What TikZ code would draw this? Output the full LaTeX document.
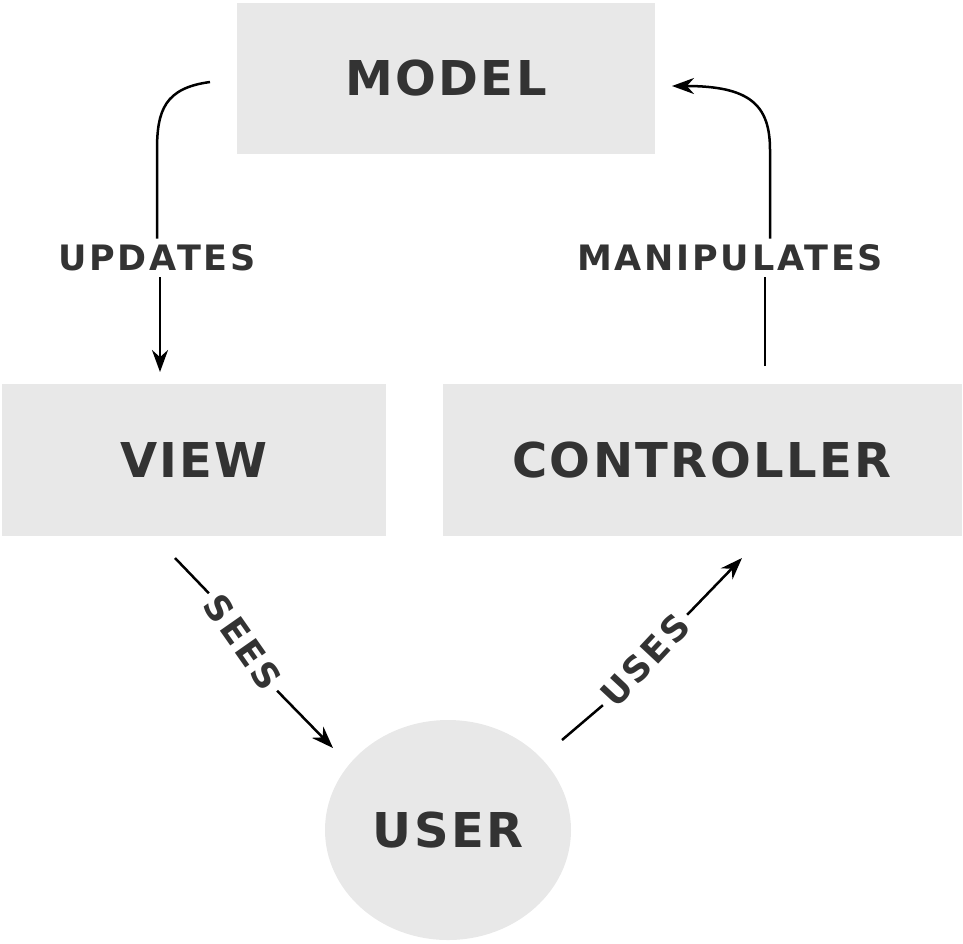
\documentclass[tikz,border=0pt]{standalone}
\usepackage{fontspec}
\setmainfont{DejaVu Sans}
\usetikzlibrary{positioning, arrows.meta, shapes.geometric}
\definecolor{boxgray}{HTML}{E8E8E8}
\definecolor{txtgray}{HTML}{333333}
\tikzset{part/.style={fill=boxgray, text=txtgray, font=\fontsize{48}{50}\selectfont\bfseries\addfontfeature{LetterSpace=5}, inner sep=0pt},
         verb/.style={text=txtgray, font=\fontsize{35}{38}\selectfont\bfseries\addfontfeature{LetterSpace=8}, inner sep=6pt},
         link/.style={line width=2.5pt, black},
         tip/.style={-{Stealth[length=22pt,width=16pt]}},
        }
\begin{document}
\begin{tikzpicture}[x=1pt,y=-1pt]
        \useasboundingbox (0,0) rectangle (963,943);
        \node[part, minimum width=418pt, minimum height=151pt](model)at(446,78){MODEL};
        \node[part, minimum width=384pt, minimum height=152pt](view)at(194,460){VIEW};
        \node[part, minimum width=519pt, minimum height=152pt](ctrl)at(702,460){CONTROLLER};
        \node[part, ellipse, minimum width=246pt, minimum height=220pt](user)at(448,830){USER};

        \node[verb](upd)at(157,258){UPDATES};
        \node[verb](man)at(730,258){MANIPULATES};
        \node[verb, rotate=-55](sees)at(243,642){SEES};
        \node[verb, rotate=47](uses)at(645,660){USES};

        \coordinate(c1)at(210,82);
        \coordinate(c2)at(160,372);
        \coordinate(c3)at(765,366);
        \coordinate(c4)at(672,86);
        \coordinate(c5)at(175,558);
        \coordinate(c6)at(333,748);
        \coordinate(c7)at(562,740);
        \coordinate(c8)at(742,558);

        \draw[link](c1)..controls(165,88)and(157,110)..(157,150)--(upd.north-|157,0);
        \draw[link, tip](upd.south-|160,0)--(c2);
        \draw[link](c3)--(man.south-|765,0);
        \draw[link, tip](man.north-|770,0)--(770,150)..controls(770,105)and(750,86)..(c4);
        \draw[link](c5)--(sees.west);
        \draw[link, tip](sees.east)--(c6);
        \draw[link](c7)--(uses.west);
        \draw[link, tip](uses.east)--(c8);
    \end{tikzpicture}
\end{document}
